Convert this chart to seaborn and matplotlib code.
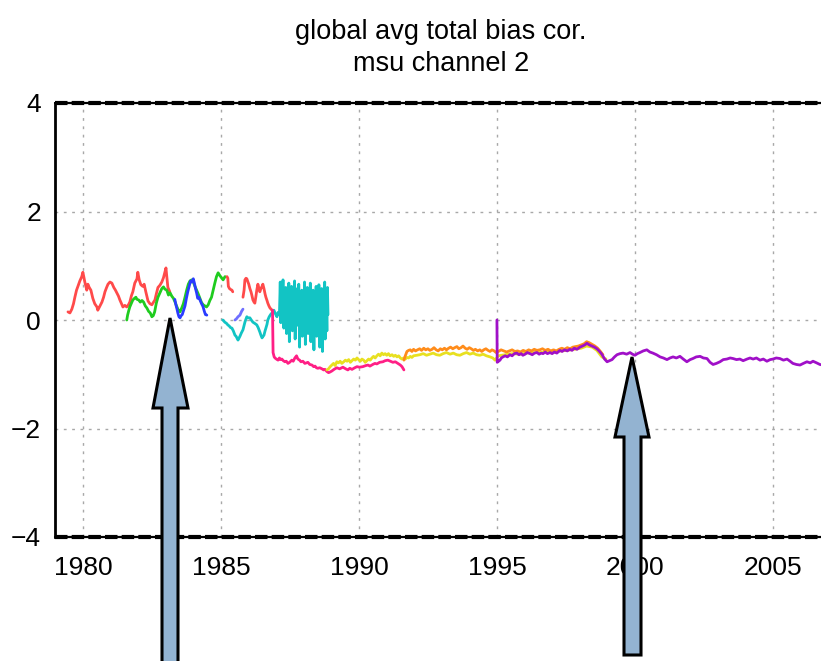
import numpy as np
import pandas as pd
import matplotlib
matplotlib.use("Agg")
import matplotlib.pyplot as plt
import seaborn as sns
from matplotlib.patches import Polygon

# ---------------- data ----------------
title_lines = ["global avg total bias cor.", "msu channel 2"]
xticks = [1980, 1985, 1990, 1995, 2000, 2005]
xtick_labels = ["1980", "1985", "1990", "1995", "2000", "2005"]
yticks = [-4, -2, 0, 2, 4]
ytick_labels = ["\u22124", "\u22122", "0", "2", "4"]

red1_year = [1979.46, 1979.53, 1979.60, 1979.66, 1979.71, 1979.77, 1979.82, 1979.89, 1979.96,
             1980.00, 1980.04, 1980.07, 1980.11, 1980.14, 1980.18, 1980.23, 1980.29, 1980.36, 1980.43,
             1980.51, 1980.54, 1980.60, 1980.69, 1980.75, 1980.80, 1980.86, 1980.91, 1980.98,
             1981.05, 1981.12, 1981.18, 1981.23, 1981.29, 1981.34, 1981.40, 1981.45, 1981.52, 1981.59,
             1981.65, 1981.70, 1981.76, 1981.81, 1981.88, 1981.96, 1981.99,
             1982.04, 1982.10, 1982.17, 1982.22, 1982.28, 1982.36, 1982.43, 1982.50, 1982.56, 1982.61,
             1982.66, 1982.72, 1982.79, 1982.86, 1982.92, 1982.97,
             1983.01, 1983.04, 1983.08, 1983.15]
red1_val = [0.15, 0.13, 0.20, 0.30, 0.42, 0.55, 0.62, 0.72, 0.80,
            0.88, 0.78, 0.70, 0.62, 0.55, 0.66, 0.60, 0.55, 0.40, 0.30,
            0.24, 0.18, 0.24, 0.33, 0.42, 0.52, 0.60, 0.66, 0.70,
            0.68, 0.60, 0.55, 0.50, 0.44, 0.37, 0.30, 0.24, 0.27, 0.24,
            0.28, 0.33, 0.45, 0.52, 0.68, 0.76, 0.88,
            0.74, 0.65, 0.62, 0.66, 0.52, 0.35, 0.30, 0.28, 0.33, 0.37,
            0.48, 0.60, 0.64, 0.70, 0.78, 0.88,
            0.96, 0.80, 0.60, 0.52]

green_year = [1981.59, 1981.62, 1981.66, 1981.70, 1981.75, 1981.81, 1981.87, 1981.92, 1981.96,
              1982.02, 1982.08, 1982.14, 1982.20, 1982.26, 1982.32, 1982.38, 1982.44, 1982.50,
              1982.55, 1982.60, 1982.66, 1982.72, 1982.79, 1982.86, 1982.92, 1982.97,
              1983.04, 1983.10, 1983.16, 1983.22, 1983.28, 1983.34, 1983.40, 1983.46, 1983.52,
              1983.58, 1983.64, 1983.70, 1983.76, 1983.82, 1983.88, 1983.94,
              1984.00, 1984.06, 1984.12, 1984.18, 1984.24, 1984.30, 1984.36, 1984.42, 1984.48,
              1984.54, 1984.60, 1984.66, 1984.72, 1984.78, 1984.84, 1984.90, 1984.96,
              1985.02, 1985.08, 1985.15]
green_val = [0.00, 0.09, 0.17, 0.24, 0.30, 0.37, 0.40, 0.42, 0.38,
             0.37, 0.33, 0.36, 0.33, 0.26, 0.22, 0.16, 0.13, 0.06,
             0.08, 0.15, 0.31, 0.42, 0.50, 0.58, 0.61, 0.57,
             0.55, 0.46, 0.50, 0.44, 0.40, 0.33, 0.25, 0.18, 0.15,
             0.22, 0.30, 0.42, 0.55, 0.66, 0.72, 0.74,
             0.70, 0.62, 0.55, 0.48, 0.40, 0.32, 0.28, 0.26, 0.24,
             0.28, 0.36, 0.42, 0.55, 0.68, 0.80, 0.87, 0.82,
             0.78, 0.74, 0.80]

blue1_year = [1983.33, 1983.37, 1983.41, 1983.44, 1983.48, 1983.52, 1983.56, 1983.60, 1983.65,
              1983.70, 1983.75, 1983.80, 1983.85, 1983.90, 1983.95, 1984.00, 1984.04, 1984.08,
              1984.12, 1984.16, 1984.20, 1984.25, 1984.30, 1984.35, 1984.40, 1984.44, 1984.49]
blue1_val = [0.38, 0.28, 0.20, 0.13, 0.06, 0.04, 0.08, 0.10, 0.18,
             0.26, 0.40, 0.52, 0.62, 0.72, 0.70, 0.76, 0.68, 0.58,
             0.50, 0.40, 0.42, 0.36, 0.30, 0.25, 0.16, 0.10, 0.09]

blue2_year = [1985.51, 1985.56, 1985.62, 1985.69, 1985.75, 1985.80]
blue2_val = [0.00, 0.02, 0.06, 0.09, 0.16, 0.20]

red2_year = [1985.22, 1985.25, 1985.27, 1985.31, 1985.36, 1985.40, 1985.43]
red2_val = [0.80, 0.77, 0.62, 0.58, 0.56, 0.55, 0.52]

red3_year = [1985.80, 1985.84, 1985.87, 1985.91, 1985.94, 1985.98, 1986.01, 1986.05, 1986.09, 1986.12,
             1986.16, 1986.20, 1986.23, 1986.27, 1986.30, 1986.34, 1986.38, 1986.41, 1986.45, 1986.49,
             1986.52, 1986.56, 1986.60, 1986.63, 1986.67, 1986.70, 1986.74, 1986.78, 1986.82, 1986.85]
red3_val = [0.42, 0.55, 0.74, 0.77, 0.76, 0.70, 0.66, 0.58, 0.52, 0.46,
            0.37, 0.33, 0.31, 0.44, 0.55, 0.66, 0.58, 0.52, 0.58, 0.62,
            0.66, 0.58, 0.48, 0.42, 0.36, 0.31, 0.26, 0.22, 0.20, 0.18]

cyan_year = [1985.07, 1985.11, 1985.14, 1985.20, 1985.25, 1985.30, 1985.35, 1985.40, 1985.45, 1985.51,
             1985.55, 1985.58, 1985.62, 1985.66, 1985.69, 1985.74, 1985.80, 1985.84, 1985.87, 1985.91,
             1985.94, 1985.98, 1986.05, 1986.10, 1986.16, 1986.22, 1986.30, 1986.35, 1986.41, 1986.45,
             1986.49, 1986.53, 1986.56, 1986.60, 1986.63, 1986.67, 1986.70, 1986.75, 1986.80, 1986.85,
             1986.92, 1986.97, 1987.03, 1987.07, 1987.10,
             1987.12, 1987.15, 1987.17, 1987.20, 1987.22, 1987.25, 1987.28, 1987.30, 1987.33, 1987.35,
             1987.38, 1987.41, 1987.43, 1987.46, 1987.48, 1987.51, 1987.54, 1987.56, 1987.59, 1987.61,
             1987.64, 1987.67, 1987.69, 1987.72, 1987.74, 1987.77, 1987.80, 1987.82, 1987.85, 1987.87,
             1987.90, 1987.93, 1987.95, 1987.98,
             1988.00, 1988.03, 1988.06, 1988.08, 1988.11, 1988.13, 1988.16, 1988.19, 1988.21, 1988.24,
             1988.26, 1988.29, 1988.32, 1988.34, 1988.37, 1988.39, 1988.42, 1988.45, 1988.47, 1988.50,
             1988.52, 1988.55, 1988.58, 1988.60, 1988.63, 1988.65, 1988.68, 1988.71, 1988.73, 1988.76,
             1988.78, 1988.81, 1988.84, 1988.86, 1988.88]
cyan_val = [0.00, -0.02, -0.04, -0.06, -0.09, -0.11, -0.14, -0.15, -0.20, -0.28,
            -0.30, -0.33, -0.37, -0.33, -0.30, -0.24, -0.18, -0.10, -0.04, 0.02,
            0.06, 0.04, 0.04, 0.00, -0.04, -0.06, -0.09, -0.14, -0.22, -0.28,
            -0.33, -0.30, -0.28, -0.20, -0.15, -0.08, 0.00, 0.06, 0.10, 0.13,
            0.18, 0.12, 0.06, 0.14, 0.12,
            0.10, 0.70, -0.05, 0.55, 0.20, 0.74, -0.15, 0.45, 0.05, 0.60,
            -0.25, 0.50, 0.15, 0.68, -0.40, 0.35, 0.00, 0.62, -0.20, 0.48,
            0.10, 0.72, -0.35, 0.30, 0.05, 0.58, -0.10, 0.66, -0.50, 0.40,
            0.15, 0.55, -0.30, 0.45,
            0.00, 0.70, -0.45, 0.35, 0.10, 0.60, -0.25, 0.50, -0.05, 0.68,
            -0.40, 0.30, 0.20, 0.55, -0.55, 0.45, 0.05, 0.62, -0.30, 0.40,
            -0.10, 0.65, -0.50, 0.35, 0.15, 0.58, -0.58, 0.30, 0.00, 0.70,
            -0.35, 0.50, -0.20, 0.60, 0.10]

pink_year = [1986.87, 1986.89, 1986.93, 1986.96,
             1987.01, 1987.07, 1987.12, 1987.16, 1987.21, 1987.26, 1987.32, 1987.37, 1987.43, 1987.49,
             1987.57, 1987.62, 1987.68, 1987.74, 1987.79, 1987.85, 1987.90, 1987.97,
             1988.04, 1988.10, 1988.15, 1988.22, 1988.30, 1988.36, 1988.41, 1988.46, 1988.51, 1988.58,
             1988.66, 1988.72, 1988.77, 1988.84, 1988.90, 1988.95,
             1989.02, 1989.10, 1989.20, 1989.30, 1989.42, 1989.52, 1989.60, 1989.67, 1989.75, 1989.85, 1989.93,
             1990.02, 1990.14, 1990.25, 1990.33, 1990.40, 1990.50, 1990.58, 1990.65, 1990.75, 1990.87, 1990.95,
             1991.05, 1991.14, 1991.23, 1991.32, 1991.41, 1991.50, 1991.56, 1991.63]
pink_val = [0.18, -0.60, -0.68, -0.70,
            -0.72, -0.74, -0.70, -0.73, -0.72, -0.75, -0.77, -0.76, -0.80, -0.78,
            -0.74, -0.76, -0.70, -0.66, -0.72, -0.74, -0.77, -0.76,
            -0.80, -0.79, -0.78, -0.82, -0.83, -0.86, -0.85, -0.88, -0.89, -0.88,
            -0.90, -0.92, -0.91, -0.95, -0.97, -0.96,
            -0.94, -0.91, -0.88, -0.90, -0.87, -0.90, -0.92, -0.89, -0.91, -0.88, -0.86,
            -0.87, -0.86, -0.84, -0.83, -0.85, -0.82, -0.80, -0.81, -0.78, -0.77, -0.75,
            -0.74, -0.76, -0.78, -0.77, -0.80, -0.83, -0.86, -0.92]

yellow_year = [1988.84, 1988.90, 1988.96, 1989.02, 1989.08, 1989.14, 1989.20, 1989.26, 1989.32, 1989.38,
               1989.45, 1989.51, 1989.57, 1989.63, 1989.69, 1989.75, 1989.81, 1989.87, 1989.93, 1989.99,
               1990.05, 1990.11, 1990.17, 1990.23, 1990.29, 1990.35, 1990.41, 1990.47, 1990.53, 1990.59,
               1990.65, 1990.71, 1990.77, 1990.83, 1990.89, 1990.95, 1991.01, 1991.07, 1991.13, 1991.20,
               1991.26, 1991.32, 1991.38, 1991.44, 1991.50, 1991.56, 1991.62, 1991.68, 1991.74, 1991.80,
               1991.86, 1991.92, 1991.98, 1992.10, 1992.21, 1992.33, 1992.45, 1992.57, 1992.69, 1992.81,
               1992.93, 1993.05, 1993.17, 1993.30, 1993.42, 1993.54, 1993.66, 1993.78, 1993.90, 1994.02,
               1994.14, 1994.26, 1994.38, 1994.50, 1994.62, 1994.75, 1994.85, 1994.93,
               1995.05, 1995.30, 1995.55, 1995.80, 1996.05, 1996.30, 1996.55, 1996.80, 1997.05, 1997.30,
               1997.55, 1997.80, 1998.05, 1998.25, 1998.45, 1998.62, 1998.80, 1998.95]
yellow_val = [-0.92, -0.90, -0.86, -0.83, -0.80, -0.84, -0.77, -0.79, -0.76, -0.80,
              -0.77, -0.74, -0.76, -0.73, -0.78, -0.75, -0.72, -0.74, -0.70, -0.73,
              -0.76, -0.72, -0.74, -0.78, -0.75, -0.72, -0.74, -0.70, -0.67, -0.70,
              -0.66, -0.63, -0.66, -0.61, -0.64, -0.62, -0.65, -0.62, -0.66, -0.64,
              -0.67, -0.65, -0.68, -0.66, -0.70, -0.72, -0.70, -0.72, -0.69, -0.70,
              -0.67, -0.69, -0.66, -0.65, -0.64, -0.62, -0.65, -0.63, -0.61, -0.64,
              -0.65, -0.62, -0.60, -0.63, -0.61, -0.64, -0.65, -0.62, -0.60, -0.63,
              -0.61, -0.64, -0.65, -0.63, -0.66, -0.68, -0.70, -0.74,
              -0.66, -0.64, -0.62, -0.63, -0.61, -0.60, -0.60, -0.59, -0.60, -0.57,
              -0.56, -0.54, -0.52, -0.48, -0.50, -0.56, -0.68, -0.72]

orange_year = [1991.63, 1991.68, 1991.74, 1991.80, 1991.86, 1991.92, 1991.98,
               1992.05, 1992.12, 1992.20, 1992.27, 1992.35, 1992.42, 1992.50, 1992.57, 1992.65, 1992.72,
               1992.80, 1992.87, 1992.95, 1993.02, 1993.10, 1993.17, 1993.25, 1993.32, 1993.40, 1993.47,
               1993.55, 1993.62, 1993.70, 1993.77, 1993.85, 1993.92, 1994.00, 1994.07, 1994.15, 1994.22,
               1994.30, 1994.38, 1994.45, 1994.52, 1994.60, 1994.68, 1994.75, 1994.82, 1994.90, 1994.97,
               1995.05, 1995.15, 1995.25, 1995.35, 1995.45, 1995.55, 1995.65, 1995.75, 1995.85, 1995.95,
               1996.05, 1996.15, 1996.25, 1996.35, 1996.45, 1996.55, 1996.65, 1996.75, 1996.85, 1996.95,
               1997.05, 1997.15, 1997.25, 1997.35, 1997.45, 1997.55, 1997.65, 1997.75, 1997.85, 1997.95,
               1998.05, 1998.15, 1998.25, 1998.35, 1998.45, 1998.55, 1998.65, 1998.75, 1998.84]
orange_val = [-0.74, -0.66, -0.58, -0.56, -0.55, -0.58, -0.54,
              -0.57, -0.55, -0.53, -0.56, -0.52, -0.55, -0.53, -0.56, -0.54, -0.51,
              -0.55, -0.57, -0.53, -0.55, -0.52, -0.55, -0.52, -0.50, -0.53, -0.51,
              -0.49, -0.53, -0.51, -0.48, -0.52, -0.54, -0.51, -0.53, -0.56, -0.54,
              -0.57, -0.55, -0.58, -0.55, -0.53, -0.56, -0.58, -0.55, -0.57, -0.60,
              -0.58, -0.55, -0.57, -0.59, -0.57, -0.55, -0.58, -0.57, -0.59, -0.56,
              -0.58, -0.55, -0.57, -0.54, -0.56, -0.55, -0.53, -0.56, -0.54, -0.57,
              -0.55, -0.57, -0.54, -0.52, -0.54, -0.51, -0.53, -0.50, -0.49, -0.48,
              -0.46, -0.44, -0.40, -0.42, -0.45, -0.48, -0.52, -0.58, -0.64]

purple_year = [1995.00, 1995.01, 1995.06, 1995.11, 1995.16, 1995.22, 1995.30, 1995.38, 1995.47, 1995.55,
               1995.63, 1995.72, 1995.80, 1995.88, 1995.94, 1996.02, 1996.10, 1996.20, 1996.28, 1996.36,
               1996.45, 1996.53, 1996.60, 1996.67, 1996.75, 1996.83, 1996.92, 1997.00, 1997.08, 1997.17,
               1997.28, 1997.36, 1997.45, 1997.55, 1997.64, 1997.72, 1997.80, 1997.90, 1998.01, 1998.10,
               1998.18, 1998.26, 1998.35, 1998.44, 1998.53, 1998.62, 1998.70, 1998.80, 1998.90, 1998.99,
               1999.08, 1999.17, 1999.26, 1999.35, 1999.46, 1999.57, 1999.70, 1999.82, 1999.91, 2000.00,
               2000.09, 2000.18, 2000.30, 2000.43, 2000.54, 2000.65, 2000.78, 2000.91, 2001.03, 2001.16,
               2001.27, 2001.38, 2001.50, 2001.63, 2001.75, 2001.88, 2002.00, 2002.10, 2002.22, 2002.36,
               2002.48, 2002.61, 2002.72, 2002.83, 2002.95, 2003.08, 2003.20, 2003.33, 2003.45, 2003.55,
               2003.68, 2003.80, 2003.92, 2004.06, 2004.17, 2004.28, 2004.40, 2004.53, 2004.65, 2004.78,
               2004.90, 2005.00, 2005.12, 2005.25, 2005.38, 2005.51, 2005.62, 2005.72, 2005.85, 2005.98,
               2006.10, 2006.23, 2006.35, 2006.45, 2006.58, 2006.70, 2006.80]
purple_val = [0.00, -0.78, -0.76, -0.74, -0.70, -0.68, -0.66, -0.68, -0.64, -0.66,
              -0.62, -0.61, -0.64, -0.62, -0.65, -0.63, -0.60, -0.62, -0.64, -0.61,
              -0.60, -0.63, -0.61, -0.62, -0.59, -0.62, -0.60, -0.62, -0.59, -0.61,
              -0.56, -0.58, -0.55, -0.57, -0.54, -0.56, -0.52, -0.54, -0.50, -0.48,
              -0.46, -0.43, -0.46, -0.48, -0.50, -0.53, -0.57, -0.63, -0.72, -0.77,
              -0.75, -0.73, -0.68, -0.64, -0.62, -0.61, -0.63, -0.60, -0.63, -0.65,
              -0.62, -0.60, -0.57, -0.55, -0.59, -0.61, -0.64, -0.68, -0.70, -0.73,
              -0.70, -0.68, -0.70, -0.67, -0.72, -0.77, -0.73, -0.71, -0.68, -0.67,
              -0.70, -0.71, -0.78, -0.82, -0.80, -0.77, -0.73, -0.72, -0.70, -0.71,
              -0.73, -0.72, -0.75, -0.72, -0.70, -0.72, -0.70, -0.74, -0.72, -0.76,
              -0.73, -0.72, -0.70, -0.71, -0.74, -0.72, -0.76, -0.80, -0.82, -0.83,
              -0.80, -0.77, -0.79, -0.76, -0.79, -0.82, -0.83]

series = [
    ("red1", red1_year, red1_val, "#ff4a4a"),
    ("green", green_year, green_val, "#1fcc1f"),
    ("blue1", blue1_year, blue1_val, "#2a3cff"),
    ("red2", red2_year, red2_val, "#ff4a4a"),
    ("red3", red3_year, red3_val, "#ff4a4a"),
    ("blue2", blue2_year, blue2_val, "#6f6fff"),
    ("cyan", cyan_year, cyan_val, "#12c4c4"),
    ("pink", pink_year, pink_val, "#ff1f85"),
    ("yellow", yellow_year, yellow_val, "#e8e020"),
    ("orange", orange_year, orange_val, "#ff8c1a"),
    ("purple", purple_year, purple_val, "#a010c8"),
]

# ---------------- figure ----------------
sns.set_style("white")
plt.rcParams["font.family"] = ["Liberation Sans", "DejaVu Sans"]
plt.rcParams["text.color"] = "black"
plt.rcParams["xtick.color"] = "black"
plt.rcParams["ytick.color"] = "black"
plt.rcParams["axes.labelcolor"] = "black"

W, H = 821, 661
fig = plt.figure(figsize=(W / 100, H / 100), dpi=100)
ax = fig.add_axes([55 / W, 124 / H, (W - 55) / W, 434 / H])

for name, xs, ys, col in series:
    assert len(xs) == len(ys), name
    sns.lineplot(x=xs, y=ys, color=col, lw=2.0, estimator=None, sort=False, ax=ax)

ax.set_xlim(1978.99, 2006.74)
ax.set_ylim(-4, 4)
ax.set_xticks(xticks)
ax.set_xticklabels(xtick_labels, fontsize=19, color="black")
ax.set_yticks(yticks)
ax.set_yticklabels(ytick_labels, fontsize=19, color="black")
ax.tick_params(axis="x", direction="out", length=8, width=1.2, color="black", pad=6)
ax.tick_params(axis="y", direction="out", length=6, width=1.2, color="black", pad=4)

ax.grid(True, color="#a8a8a8", linestyle=(0, (2, 4)), linewidth=1.0)
ax.set_axisbelow(True)

for s in ["top", "bottom", "right"]:
    ax.spines[s].set_visible(False)
ax.spines["left"].set_linewidth(2)
ax.spines["left"].set_color("black")

for yv in (4, -4):
    ax.axhline(yv, color="black", lw=1.6, clip_on=False, zorder=5)
    ax.axhline(yv, color="black", lw=3.0, ls=(0, (3, 1)), clip_on=False, zorder=5)

# two-line title, placed by baseline
fig.text(441 / W, 1 - 39 / H, title_lines[0], ha="center", va="baseline", fontsize=19.5, color="black")
fig.text(441 / W, 1 - 71 / H, title_lines[1], ha="center", va="baseline", fontsize=19.5, color="black")

# arrows (figure pixel coordinates, origin at top-left)
arrow_shapes = [
    [(170, 318), (188, 408), (178, 408), (178, 675), (162, 675), (162, 408), (153, 408)],
    [(632, 357), (649, 437), (641, 437), (641, 655), (624, 655), (624, 437), (615, 437)],
]
for pts in arrow_shapes:
    poly = Polygon([(px / W, 1 - py / H) for px, py in pts], closed=True,
                   facecolor="#93b3d1", edgecolor="black", lw=2.2,
                   transform=fig.transFigure, zorder=20)
    fig.add_artist(poly)

fig.savefig("out.png", dpi=100)
